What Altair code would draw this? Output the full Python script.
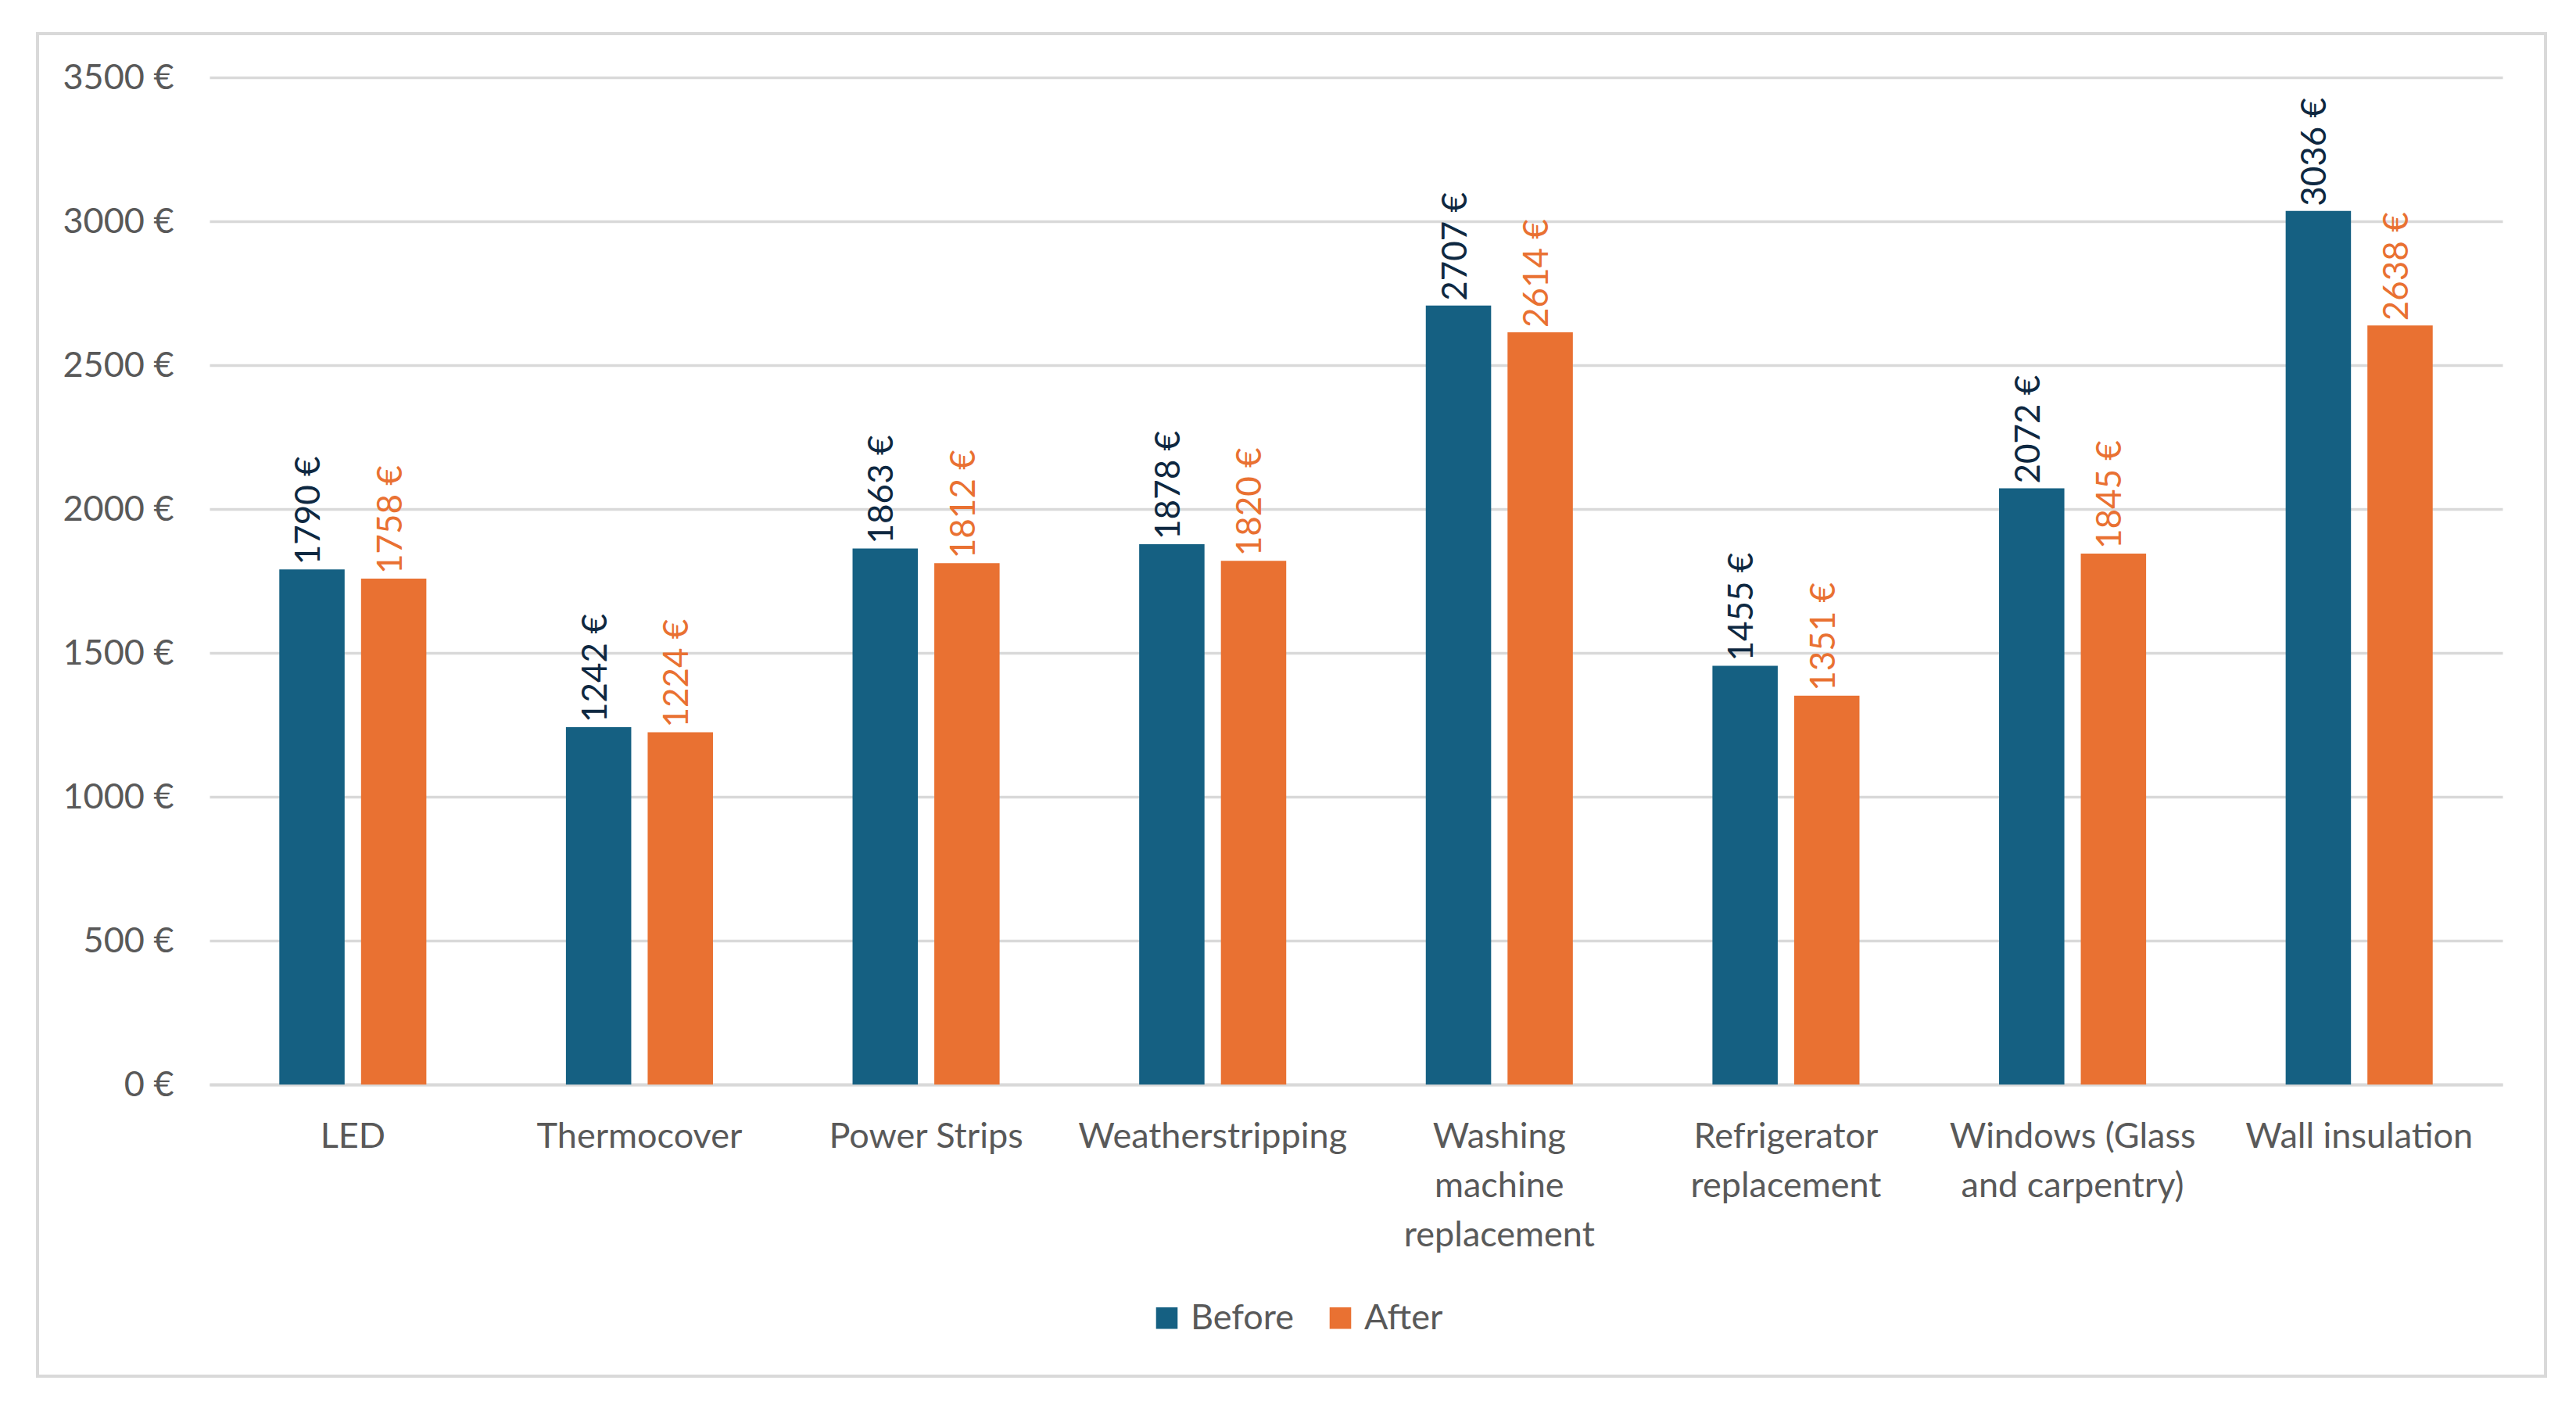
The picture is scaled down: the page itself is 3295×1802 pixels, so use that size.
import altair as alt
import pandas as pd

categories = [
    "LED",
    "Thermocover",
    "Power Strips",
    "Weatherstripping",
    "Washing\nmachine\nreplacement",
    "Refrigerator\nreplacement",
    "Windows (Glass\nand carpentry)",
    "Wall insulation",
]
before = [1790, 1242, 1863, 1878, 2707, 1455, 2072, 3036]
after = [1758, 1224, 1812, 1820, 2614, 1351, 1845, 2638]
series = ["Before", "After"]
y_ticks = [0, 500, 1000, 1500, 2000, 2500, 3000, 3500]

rows = []
for c, b, a in zip(categories, before, after):
    rows.append({"Category": c, "Series": "Before", "Value": b})
    rows.append({"Category": c, "Series": "After", "Value": a})
df = pd.DataFrame(rows)

FONT = "Lato"
FS = 45
GRAY = "#595959"
LINE = "#D9D9D9"

x_enc = alt.X(
    "Category:N",
    sort=categories,
    scale=alt.Scale(paddingInner=0.487, paddingOuter=0.2435),
    axis=alt.Axis(
        title=None,
        labelAngle=0,
        labelExpr="split(datum.label, '\\n')",
        labelLineHeight=63,
        labelPadding=44,
        labelFont=FONT,
        labelFontSize=FS,
        labelColor=GRAY,
        ticks=False,
        domainColor=LINE,
        domainWidth=4,
        grid=False,
        labelLimit=1000,
    ),
)
xoff = alt.XOffset("Series:N", sort=series, scale=alt.Scale(paddingInner=0.201, paddingOuter=0))
y_enc = alt.Y(
    "Value:Q",
    scale=alt.Scale(domain=[0, 3500], nice=False),
    axis=alt.Axis(
        title=None,
        values=y_ticks,
        labelExpr="datum.value + ' €'",
        labelFont=FONT,
        labelFontSize=FS,
        labelColor=GRAY,
        labelPadding=46,
        ticks=False,
        domain=False,
        gridColor=LINE,
        gridWidth=3.5,
    ),
)

bars = alt.Chart(df).mark_bar().encode(
    x=x_enc,
    xOffset=xoff,
    y=y_enc,
    color=alt.Color(
        "Series:N",
        sort=series,
        scale=alt.Scale(domain=series, range=["#156082", "#E97132"]),
        legend=alt.Legend(
            title=None,
            orient="none",
            direction="horizontal",
            legendX=1202,
            legendY=1564,
            symbolType="square",
            symbolSize=760,
            symbolStrokeWidth=0,
            labelFont=FONT,
            labelFontSize=FS,
            labelColor=GRAY,
            labelOffset=8,
            columnPadding=36,
            padding=0,
        ),
    ),
)

labels = alt.Chart(df).transform_calculate(
    Label="datum.Value + ' €'"
).mark_text(
    angle=270, align="left", baseline="middle", dx=6, dy=-3, font=FONT, fontSize=44
).encode(
    x=alt.X("Category:N", sort=categories),
    xOffset=alt.XOffset("Series:N", sort=series),
    y="Value:Q",
    text="Label:N",
    color=alt.condition(alt.datum.Series == "Before", alt.value("#0E2841"), alt.value("#E97132")),
)

frame = alt.Chart(alt.Data(values=[{"a": 1}])).mark_rect(
    fill="transparent", stroke=LINE, strokeWidth=4, clip=False
).encode(
    x=alt.value(-220), x2=alt.value(2988), y=alt.value(-56), y2=alt.value(1661)
)

chart = alt.layer(frame, bars, labels).properties(
    width=2933,
    height=1288,
    autosize=alt.AutoSizeParams(type="none"),
    padding={"left": 260, "top": 91, "right": 72, "bottom": 391},
    background="white",
).configure_view(strokeWidth=0)

chart.save("out.html", embed_options={"renderer": "svg", "actions": False})
